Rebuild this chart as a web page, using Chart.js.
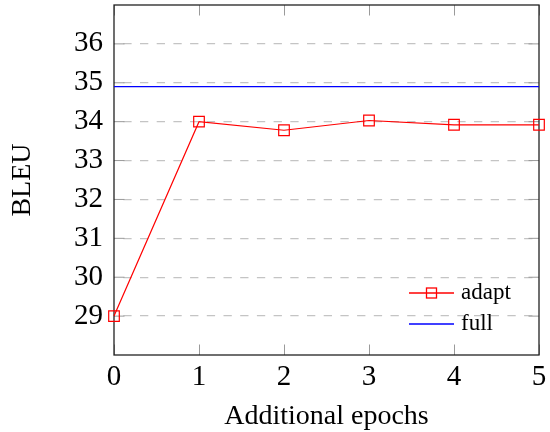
<!DOCTYPE html>
<html>
<head>
<meta charset="utf-8">
<script src="https://cdn.jsdelivr.net/npm/chart.js@4"></script>
<style>
html,body{margin:0;padding:0;background:#fff;}
#wrap{width:550px;height:432px;}
</style>
</head>
<body>
<div id="wrap"><canvas id="c" width="550" height="432"></canvas></div>
<script>
const epochs = [0, 1, 2, 3, 4, 5];
const adaptBleu = [29.0, 34.0, 33.78, 34.03, 33.92, 33.92];
const fullBleu = [34.9, 34.9];
const fullEpochs = [0, 5];
const yTickValues = [29, 30, 31, 32, 33, 34, 35, 36];
const xTickValues = [0, 1, 2, 3, 4, 5];
const seriesNames = ['adapt', 'full'];

const SERIF = '"Liberation Serif", "Times New Roman", serif';

const frameTicks = {
  id: 'frameTicks',
  beforeDatasetsDraw(chart) {
    const {ctx, chartArea: a, scales: {x, y}} = chart;
    ctx.save();
    ctx.strokeStyle = '#9a9a9a';
    ctx.lineWidth = 1;
    const L = 10.5;
    xTickValues.forEach(v => {
      const px = Math.round(x.getPixelForValue(v)) + 0.5;
      ctx.beginPath();
      ctx.moveTo(px, a.bottom); ctx.lineTo(px, a.bottom - L);
      ctx.moveTo(px, a.top); ctx.lineTo(px, a.top + L);
      ctx.stroke();
    });
    yTickValues.forEach(v => {
      const py = y.getPixelForValue(v);
      ctx.beginPath();
      ctx.moveTo(a.left, py); ctx.lineTo(a.left + L, py);
      ctx.moveTo(a.right, py); ctx.lineTo(a.right - L, py);
      ctx.stroke();
    });
    ctx.strokeStyle = '#222';
    ctx.lineWidth = 1.3;
    ctx.strokeRect(a.left, a.top, a.right - a.left, a.bottom - a.top);
    ctx.restore();
  },
  afterDatasetsDraw(chart) {
    const {ctx, chartArea: a} = chart;
    const ds = chart.data.datasets;
    ctx.save();
    const x0 = a.right - 130, x1 = a.right - 85, tx = a.right - 78;
    const rows = [a.bottom - 62, a.bottom - 31];
    ds.forEach((d, i) => {
      const yy = rows[i];
      ctx.strokeStyle = d.borderColor;
      ctx.lineWidth = 1.3;
      ctx.beginPath(); ctx.moveTo(x0, yy); ctx.lineTo(x1, yy); ctx.stroke();
      if (d.pointRadius > 0) {
        const s = 5;
        ctx.strokeRect((x0 + x1) / 2 - s, yy - s, 2 * s, 2 * s);
      }
      ctx.fillStyle = '#000';
      ctx.font = '23px ' + SERIF;
      ctx.textBaseline = 'middle';
      ctx.textAlign = 'left';
      ctx.fillText(d.label, tx, yy);
    });
    ctx.restore();
  }
};

new Chart(document.getElementById('c'), {
  type: 'scatter',
  data: {
    datasets: [
      {
        label: seriesNames[0],
        data: epochs.map((e, i) => ({x: e, y: adaptBleu[i]})),
        showLine: true,
        borderColor: '#ff0000',
        backgroundColor: 'rgba(0,0,0,0)',
        borderWidth: 1.2,
        pointStyle: 'rect',
        pointRadius: 7.5,
        pointHoverRadius: 7.5,
        pointBorderWidth: 1.2,
        pointBorderColor: '#ff0000',
        pointBackgroundColor: 'rgba(0,0,0,0)',
        clip: false,
        order: 1
      },
      {
        label: seriesNames[1],
        data: fullEpochs.map((e, i) => ({x: e, y: fullBleu[i]})),
        showLine: true,
        borderColor: '#0000ff',
        backgroundColor: 'rgba(0,0,0,0)',
        borderWidth: 1.4,
        pointRadius: 0,
        pointHoverRadius: 0,
        order: 2
      }
    ]
  },
  options: {
    responsive: false,
    animation: false,
    events: [],
    layout: {autoPadding: false, padding: {left: 0, top: 5, right: 11, bottom: 0}},
    plugins: {legend: {display: false}, tooltip: {enabled: false}},
    scales: {
      x: {
        type: 'linear',
        min: 0, max: 5,
        afterFit(s) { s.height = 77; s.paddingLeft = 0; s.paddingRight = 0; },
        afterBuildTicks(s) { s.ticks = xTickValues.map(v => ({value: v})); },
        grid: {display: false, drawTicks: false},
        border: {display: false},
        ticks: {
          color: '#000',
          padding: 8,
          maxRotation: 0,
          font: {family: SERIF, size: 29, lineHeight: 1},
          callback: v => String(v)
        },
        title: {
          display: true,
          text: 'Additional epochs',
          color: '#000',
          font: {family: SERIF, size: 28, lineHeight: 1},
          padding: {top: 0, bottom: 1.5}
        }
      },
      y: {
        type: 'linear',
        min: 28, max: 37,
        afterFit(s) { s.width = 114; s.paddingTop = 0; s.paddingBottom = 0; },
        afterBuildTicks(s) { s.ticks = yTickValues.map(v => ({value: v})); },
        grid: {
          display: true,
          drawTicks: false,
          color: '#c4c4c4',
          lineWidth: 1.3
        },
        border: {display: false, dash: [8.3, 8.4], dashOffset: 7.4},
        ticks: {
          color: '#000',
          padding: 11,
          font: {family: SERIF, size: 29, lineHeight: 1},
          callback: v => String(v)
        },
        title: {
          display: true,
          text: 'BLEU',
          color: '#000',
          font: {family: SERIF, size: 28, lineHeight: 1},
          padding: {top: 8.5, bottom: 0}
        }
      }
    }
  },
  plugins: [frameTicks]
});
</script>
</body>
</html>
